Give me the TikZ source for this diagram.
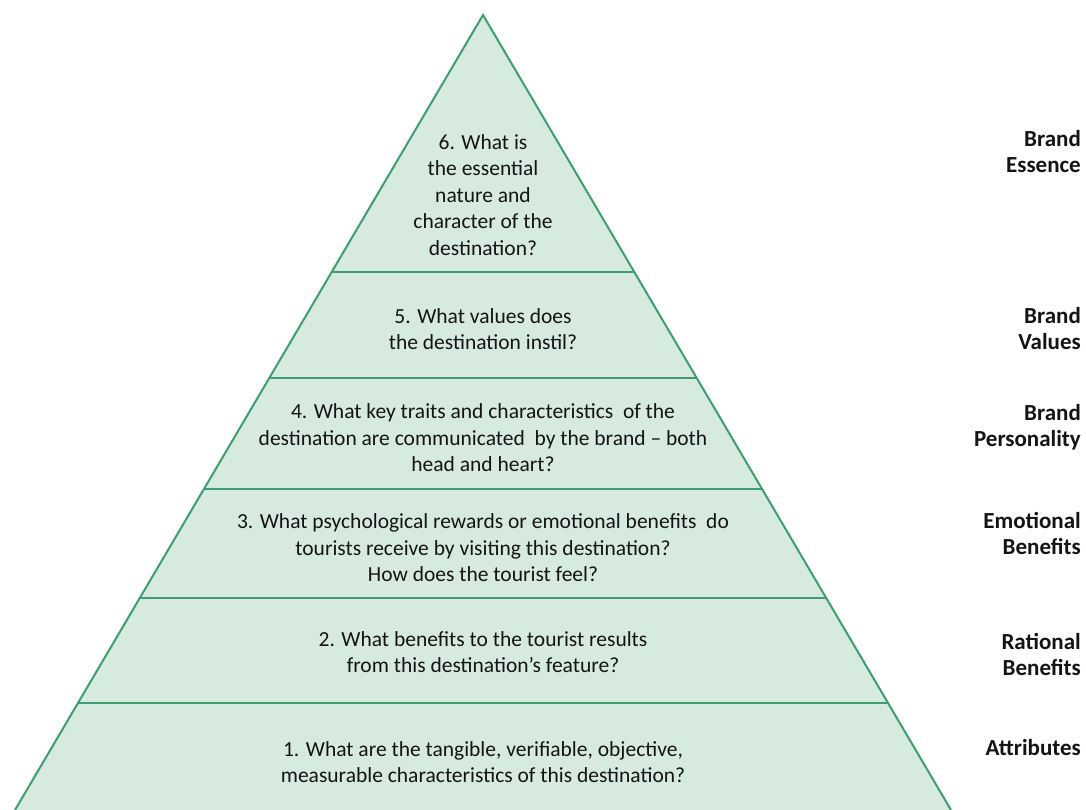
\documentclass[tikz,border=0pt]{standalone}
\usepackage{fontspec}
\setmainfont{Carlito}
\usepackage{xcolor}
\usepackage{tikz}
\usetikzlibrary{calc}
\usetikzlibrary{positioning}

\definecolor{pyrfill}{HTML}{D6EAE0}
\definecolor{pyrline}{HTML}{3E9E72}
\definecolor{txtcol}{HTML}{141414}

\tikzset{
	question/.style={align=center,text=txtcol,font=\fontsize{21.5}{26.5}\selectfont,inner sep=0pt},
	level/.style={align=right,anchor=east,text=txtcol,font=\fontsize{23}{26}\selectfont\bfseries,inner sep=0pt},
	divider/.style={pyrline,line width=2pt}
}

\begin{document}
\begin{tikzpicture}[x=1pt,y=-1pt]
	\useasboundingbox (0,0) rectangle (1086,810);
	\clip (0,0) rectangle (1086,810);
	\coordinate (apex) at (483,15);
	\coordinate (bl) at (15,810);
	\coordinate (br) at (951,810);
	\fill[pyrfill] (apex) -- (bl) -- (br) -- cycle;
	\draw[divider,line join=miter] (bl) -- (apex) -- (br);
	\foreach \yy in {272,378,489,598,703}
		\draw[divider] ({483-0.5887*(\yy-15)},\yy) -- ({483+0.5887*(\yy-15)},\yy);
	% questions
	\node[question] (q6) at (483,195) {6. What is\\the essential\\nature and\\character of the\\destination?};
	\node[question] (q5) at (483,329) {5. What values does\\the destination instil?};
	\node[question] (q4) at (483,438) {4. What key traits and characteristics\ \ of the\\destination are communicated\ \ by the brand -- both\\head and heart?};
	\node[question] (q3) at (483,548) {3. What psychological rewards or emotional benefits\ \ do\\tourists receive by visiting this destination?\\How does the tourist feel?};
	\node[question] (q2) at (483,652) {2. What benefits to the tourist results\\from this destination's feature?};
	\node[question] (q1) at (483,762) {1. What are the tangible, verifiable, objective,\\measurable characteristics of this destination?};
	% levels
	\node[level] (l6) at (1081,152) {Brand\\Essence};
	\node[level] (l5) at (1081,329) {Brand\\Values};
	\node[level] (l4) at (1081,427) {Brand\\Personality};
	\node[level] (l3) at (1081,533) {Emotional\\Benefits};
	\node[level] (l2) at (1081,654) {Rational\\Benefits};
	\node[level] (l1) at (1081,748) {Attributes};
\end{tikzpicture}
\end{document}
